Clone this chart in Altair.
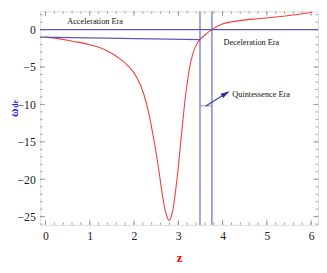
import altair as alt
import pandas as pd

# ---- data ----
z_vals = [0.0, 0.3, 0.6, 0.97, 1.34, 1.63, 1.85, 2.07, 2.22, 2.33, 2.42, 2.5, 2.55, 2.62,
          2.68, 2.74, 2.79, 2.84, 2.9, 2.95, 3.0, 3.05, 3.1, 3.15, 3.2, 3.26, 3.33, 3.41, 3.49,
          3.61, 3.75, 3.98, 4.2, 4.42, 4.8, 5.15, 5.6, 6.0]
w_vals = [-1.0, -1.2, -1.54, -1.96, -2.69, -3.68, -4.74, -6.45, -8.6, -11.1, -13.8, -16.5, -18.4, -21.3,
          -23.5, -24.9, -25.5, -25.0, -23.3, -21.0, -18.4, -15.3, -12.4, -9.5, -7.2, -4.9, -3.2, -2.0, -1.3,
          -0.68, 0.0, 0.73, 1.05, 1.24, 1.47, 1.67, 1.95, 2.3]

x_ticks = [0, 1, 2, 3, 4, 5, 6]
y_ticks = [-25, -20, -15, -10, -5, 0]
x_minor = [round(i * 0.2, 1) for i in range(0, 31)]
y_minor = list(range(-26, 3))

v_lines = [3.49, 3.76]                      # era boundaries
lcdm_z = [-0.12, 3.49]                      # sloped blue line near -1
lcdm_w = [-0.99, -1.32]
seg_z = [3.49, 3.76]
seg_w = [-10.2, -10.2]
arrow_z = [3.62, 4.12]
arrow_w = [-10.2, -8.37]

labels = ["Acceleration Era", "Deceleration Era", "Quintessence Era"]
label_z = [1.12, 4.65, 4.22]
label_w = [1.12, -1.63, -8.65]
label_align = ["center", "center", "left"]

XD = [-0.12, 6.156]
YD = [-26.1, 2.45]
W, H = 285, 219

xs = alt.Scale(domain=XD, nice=False, zero=False)
ys = alt.Scale(domain=YD, nice=False, zero=False)

FONT = "Liberation Serif"
BLUE = "#5a5ab4"
RED = "#f23c3c"
GRAY = "#8a8a8a"

x_axis = alt.Axis(
    values=x_ticks, tickSize=0, grid=False, domain=False, labelFont=FONT,
    labelFontSize=12, labelColor="#222", labelPadding=6, title="z",
    titleColor="#ff0000", titleFont=FONT, titleFontSize=13, titleFontWeight="bold",
    titlePadding=11)
y_axis = alt.Axis(
    values=y_ticks, tickSize=0, grid=False, domain=False, labelFont=FONT,
    labelFontSize=12, labelColor="#222", labelPadding=5, title=None)


def X(f="z"):
    return alt.X(f + ":Q", scale=xs, axis=x_axis, title="z")


def Y(f="w"):
    return alt.Y(f + ":Q", scale=ys, axis=y_axis, title=None)


curve_df = pd.DataFrame({"z": z_vals, "w": w_vals})

curve = alt.Chart(curve_df).mark_line(color=RED, strokeWidth=1.1, clip=True,
                                      interpolate="monotone").encode(x=X(), y=Y())

zero_line = alt.Chart(pd.DataFrame({"w": [0]})).mark_rule(color=BLUE, strokeWidth=1.3).encode(y=Y())

vlines = alt.Chart(pd.DataFrame({"z": v_lines})).mark_rule(color="#4a4aa8", strokeWidth=1).encode(x=X())

lcdm = alt.Chart(pd.DataFrame({"z": lcdm_z, "w": lcdm_w})).mark_line(color=BLUE, strokeWidth=1.2).encode(
    x=X(), y=Y())

seg = alt.Chart(pd.DataFrame({"z": seg_z, "w": seg_w})).mark_line(color="#8c8cc8", strokeWidth=1).encode(
    x=X(), y=Y())

arrow_df = pd.DataFrame({"z": [arrow_z[0]], "w": [arrow_w[0]], "z2": [arrow_z[1]], "w2": [arrow_w[1]]})
arrow_line = alt.Chart(arrow_df).mark_rule(color="#3a3aa0", strokeWidth=1.1).encode(
    x=X(), y=Y(), x2="z2:Q", y2="w2:Q")
arrow_head = alt.Chart(pd.DataFrame({"z": [arrow_z[1]], "w": [arrow_w[1]]})).mark_point(
    shape="M0,-1L0.55,1L-0.55,1Z", filled=True, color="#2e2e9a", opacity=1, size=90,
    angle=59, xOffset=-2.2, yOffset=1.3).encode(x=X(), y=Y())

lab_df = pd.DataFrame({"t": labels, "z": label_z, "w": label_w})
texts = []
for i in range(len(labels)):
    texts.append(alt.Chart(lab_df.iloc[[i]]).mark_text(
        font=FONT, fontSize=8.5, color="#111", align=label_align[i], baseline="middle").encode(
        x=X(), y=Y(), text="t:N"))


# inward frame ticks on all four sides
def xticks(vals, length):
    d = pd.DataFrame({"z": vals})
    b = alt.Chart(d).mark_rule(color=GRAY, strokeWidth=0.8).encode(
        x=X(), y=alt.value(H), y2=alt.value(H - length))
    t = alt.Chart(d).mark_rule(color=GRAY, strokeWidth=0.8).encode(
        x=X(), y=alt.value(0), y2=alt.value(length))
    return [b, t]


def yticks(vals, length):
    d = pd.DataFrame({"w": vals})
    l = alt.Chart(d).mark_rule(color=GRAY, strokeWidth=0.8).encode(
        y=Y(), x=alt.value(0), x2=alt.value(length))
    r = alt.Chart(d).mark_rule(color=GRAY, strokeWidth=0.8).encode(
        y=Y(), x=alt.value(W), x2=alt.value(W - length))
    return [l, r]


tick_layers = xticks(x_minor, 2.5) + xticks(x_ticks, 5) + yticks(y_minor, 2.5) + yticks(y_ticks, 5)

# y title: omega with subscript "de"
om = alt.Chart(pd.DataFrame({"t": ["ω"]})).mark_text(
    font=FONT, fontSize=12, fontWeight="bold", color="#1a1aff", angle=270,
    align="center", baseline="middle").encode(
    x=alt.value(-27), y=alt.value(104), text="t:N")
de = alt.Chart(pd.DataFrame({"t": ["de"]})).mark_text(
    font=FONT, fontSize=8, fontWeight="bold", color="#1a1aff", angle=270,
    align="center", baseline="middle").encode(
    x=alt.value(-24.5), y=alt.value(95), text="t:N")

chart = alt.layer(
    curve, *tick_layers, zero_line, vlines, lcdm, seg, arrow_line, arrow_head, *texts, om, de
).properties(
    width=W, height=H,
    autosize=alt.AutoSizeParams(type="none"),
    padding={"left": 33, "top": 0, "right": 1, "bottom": 48},
).configure_view(stroke=GRAY, strokeWidth=1).configure(background="white")

chart.save("out.html", embed_options={"renderer": "svg", "actions": False})
